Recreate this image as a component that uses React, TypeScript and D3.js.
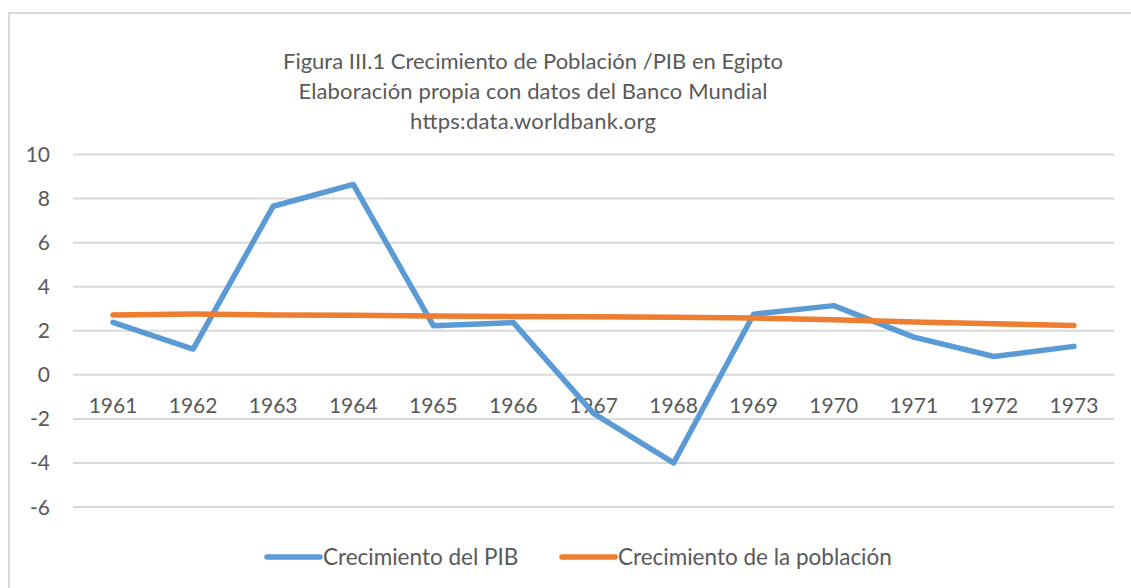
import React from 'react';
import * as d3 from 'd3';

// Egipto, datos del Banco Mundial
const years = ['1961', '1962', '1963', '1964', '1965', '1966', '1967', '1968', '1969', '1970', '1971', '1972', '1973'];
const pib = [2.38, 1.17, 7.65, 8.64, 2.23, 2.37, -1.75, -4.0, 2.75, 3.14, 1.71, 0.83, 1.29];
const poblacion = [2.72, 2.76, 2.72, 2.70, 2.67, 2.65, 2.63, 2.61, 2.58, 2.50, 2.40, 2.32, 2.24];
const yTicks = [-6, -4, -2, 0, 2, 4, 6, 8, 10];
const titleLines = [
    'Figura III.1 Crecimiento de Población /PIB en Egipto',
    'Elaboración propia con datos del Banco Mundial',
    'https:data.worldbank.org',
];
const titleWidths = [500, 469, 246];
const seriesNames = ['Crecimiento del PIB', 'Crecimiento de la población'];

const W = 1131;
const H = 588;
const BLUE = '#5B9BD5';
const ORANGE = '#ED7D31';
const TEXT = '#595959';
const GRID = '#D9D9D9';
const FONT = 'Lato, "Open Sans", sans-serif';

const App: React.FC = () => {
    const x = d3.scaleBand<string>().domain(years).range([73, 1114]);
    const cx = (d: string) => (x(d) as number) + x.bandwidth() / 2;
    const y = d3.scaleLinear().domain([-6, 10]).range([507, 154.5]);

    const line = d3.line<number>()
        .x((d, i) => cx(years[i]))
        .y(d => y(d));

    return (
        <svg width={W} height={H} style={{ position: 'absolute', left: 0, top: 0, background: '#fff' }}>
            <rect x={9} y={13} width={W + 20} height={H + 20} fill="#fff" stroke={GRID} strokeWidth={2} />

            {/* título */}
            {titleLines.map((t, i) => (
                <text key={i} x={533} y={69 + i * 30} textAnchor="middle" fontFamily={FONT}
                    fontSize={22} fill={TEXT} textLength={titleWidths[i]} lengthAdjust="spacing">{t}</text>
            ))}

            {/* rejilla y eje Y */}
            {yTicks.map(t => (
                <g key={t}>
                    <line x1={73} x2={1114} y1={y(t)} y2={y(t)} stroke={GRID} strokeWidth={2} />
                    <text x={50} y={y(t)} dy="0.36em" textAnchor="end" fontFamily={FONT}
                        fontSize={21} fill={TEXT}>{t}</text>
                </g>
            ))}

            {/* etiquetas del eje X */}
            {years.map(d => (
                <text key={d} x={cx(d)} y={y(0) + 38} textAnchor="middle" fontFamily={FONT}
                    fontSize={21} fill={TEXT}>{d}</text>
            ))}

            <path d={line(pib) as string} fill="none" stroke={BLUE} strokeWidth={5.5} strokeLinejoin="round" strokeLinecap="round" />
            <path d={line(poblacion) as string} fill="none" stroke={ORANGE} strokeWidth={5.5} strokeLinejoin="round" strokeLinecap="round" />

            {/* leyenda */}
            {[{ c: BLUE, x0: 267 }, { c: ORANGE, x0: 562 }].map((l, i) => (
                <g key={i}>
                    <line x1={l.x0} x2={l.x0 + 53} y1={557} y2={557} stroke={l.c} strokeWidth={5.5} strokeLinecap="round" />
                    <text x={l.x0 + 56} y={557} dy="0.36em" fontFamily={FONT} fontSize={22.5} fill={TEXT}>{seriesNames[i]}</text>
                </g>
            ))}
        </svg>
    );
};

export default App;
